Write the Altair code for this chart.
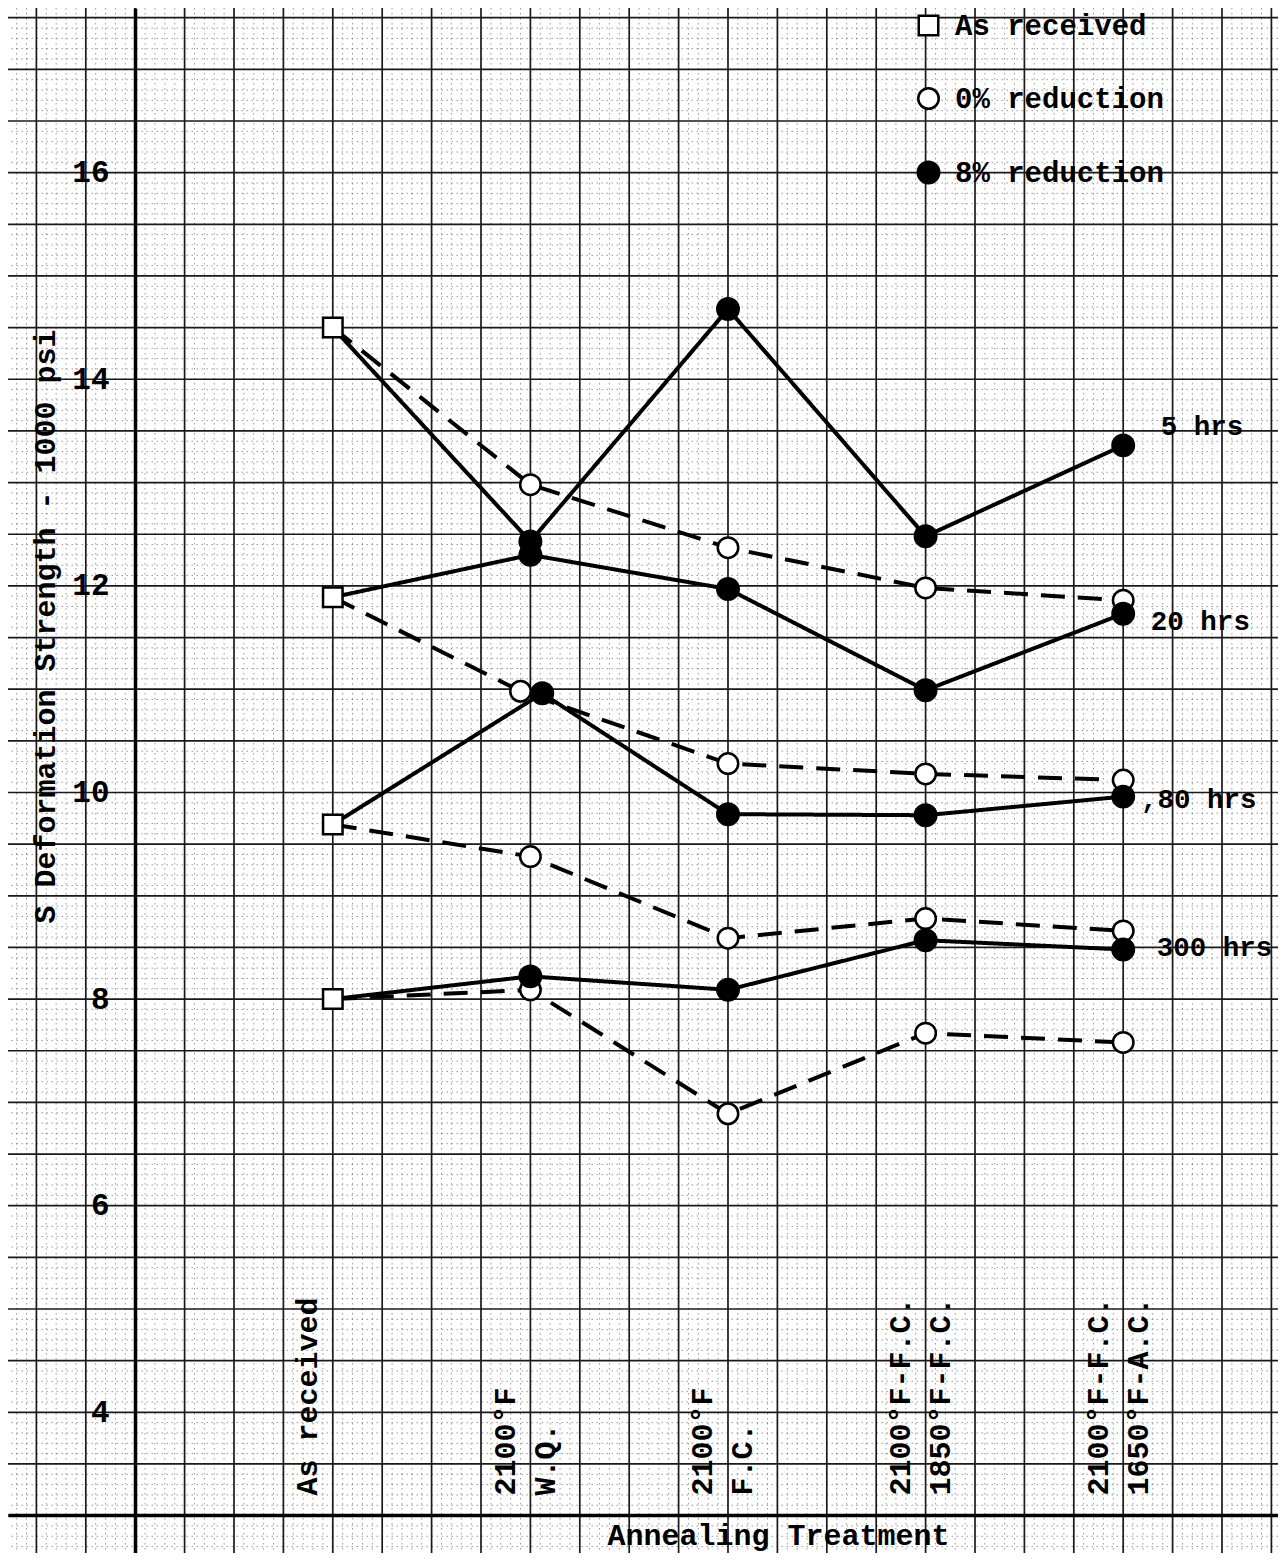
import json
import numpy as np
import pandas as pd
import altair as alt

# ---------------- data ----------------
treat_x = [0, 1, 2, 3, 4]
treat_labels = [
    ["As received"],
    ["2100°F", "W.Q."],
    ["2100°F", "F.C."],
    ["2100°F-F.C.", "1850°F-F.C."],
    ["2100°F-F.C.", "1650°F-A.C."],
]
hours = ["5 hrs", "20 hrs", "80 hrs", "300 hrs"]
as_received = [14.50, 11.89, 9.69, 8.00]

# 0% reduction (open circles, dashed)
red0 = {
    "5 hrs": [12.98, 12.37, 11.98, 11.86],
    "20 hrs": [10.98, 10.28, 10.18, 10.12],
    "80 hrs": [9.38, 8.59, 8.78, 8.66],
    "300 hrs": [8.09, 6.89, 7.67, 7.58],
}
red0_x = {
    "5 hrs": [1, 2, 3, 4],
    "20 hrs": [0.95, 2, 3, 4],
    "80 hrs": [1, 2, 3, 4],
    "300 hrs": [1, 2, 3, 4],
}
# 8% reduction (filled circles, solid)
red8 = {
    "5 hrs": [12.43, 14.68, 12.48, 13.36],
    "20 hrs": [12.30, 11.97, 10.99, 11.73],
    "80 hrs": [10.96, 9.79, 9.78, 9.96],
    "300 hrs": [8.22, 8.09, 8.57, 8.48],
}
red8_x = {
    "5 hrs": [1, 2, 3, 4],
    "20 hrs": [1, 2, 3, 4],
    "80 hrs": [1.06, 2, 3, 4],
    "300 hrs": [1, 2, 3, 4],
}
hour_label_text = ["5 hrs", "20 hrs", ",80 hrs", "300 hrs"]
hour_label_x = [4.19, 4.14, 4.09, 4.17]
hour_label_y = [13.54, 11.65, 9.93, 8.49]

y_ticks = [4, 6, 8, 10, 12, 14, 16]
marker_domain = ["As received", "0% reduction", "8% reduction"]

# ---------------- tables ----------------
line_rows, pt_rows = [], []
for i, h in enumerate(hours):
    pt_rows.append({"x": 0, "y": as_received[i], "marker": "As received"})
    for red, vals, xs_ in (("0% reduction", red0, red0_x), ("8% reduction", red8, red8_x)):
        line_rows.append({"x": 0, "y": as_received[i], "series": h + red, "reduction": red})
        for xv, yv in zip(xs_[h], vals[h]):
            line_rows.append({"x": xv, "y": yv, "series": h + red, "reduction": red})
            pt_rows.append({"x": xv, "y": yv, "marker": red})
df_lines = pd.DataFrame(line_rows)
df_pts = pd.DataFrame(pt_rows)
df_hl = pd.DataFrame({"x": hour_label_x, "y": hour_label_y, "t": hour_label_text})

# graph-paper rulings
gx_major = np.round(np.arange(-1.5, 4.76, 0.25), 3)
gx_all = np.round(np.arange(-1.60, 4.78, 0.05), 3)
gx_minor = [v for v in gx_all if not np.any(np.isclose(v, gx_major))]
gy_major = np.round(np.arange(3.0, 17.51, 0.5), 3)
gy_all = np.round(np.arange(2.7, 17.55, 0.1), 3)
gy_minor = [v for v in gy_all if not np.any(np.isclose(v, gy_major))]

# ---------------- scales / axes ----------------
FONT = "Liberation Mono"
xs = alt.Scale(domain=[-1.6437, 4.7834], nice=False, zero=False)
ys = alt.Scale(domain=[2.638, 17.594], nice=False, zero=False)

label_expr = json.dumps(treat_labels, ensure_ascii=False) + "[datum.value]"

xax = alt.Axis(
    values=treat_x, orient="bottom", offset=-38, labelExpr=label_expr,
    labelAngle=270, labelAlign="left", labelBaseline="middle",
    labelPadding=-20, labelLineHeight=40, labelOffset=-25, labelLimit=0,
    ticks=False, tickSize=0,
    domain=True, domainColor="black", domainWidth=3.5, grid=False,
    labelFlush=False, labelOverlap=False, labelFont=FONT, labelFontSize=30,
    labelFontWeight="bold", labelColor="black",
    title="Annealing Treatment", titleX=770, titleY=20, titleAlign="center",
    titleBaseline="middle", titleFont=FONT, titleFontSize=30, titleLimit=0,
    titleFontWeight="bold", titleColor="black", zindex=1,
)
yax = alt.Axis(
    values=y_ticks, orient="left", offset=-127, ticks=False, tickSize=0,
    domain=True, domainColor="black", domainWidth=3.5, grid=False,
    labelFlush=False, labelOverlap=False, labelPadding=26, labelAlign="right",
    labelBaseline="middle", labelFont=FONT, labelFontSize=31,
    labelFontWeight="bold", labelColor="black",
    title="S Deformation Strength - 1000 psi", titleX=-90, titleY=618,
    titleAngle=270, titleAlign="center", titleBaseline="middle", titleLimit=0,
    titleFont=FONT, titleFontSize=30, titleFontWeight="bold",
    titleColor="black", zindex=1,
)


def X():
    return alt.X("x:Q", scale=xs, axis=xax)


def Y():
    return alt.Y("y:Q", scale=ys, axis=yax)


vminor = alt.Chart(pd.DataFrame({"x": gx_minor})).mark_rule(
    color="#555555", strokeWidth=1, strokeDash=[1.5, 3.5], opacity=0.6
).encode(x=X())
hminor = alt.Chart(pd.DataFrame({"y": gy_minor})).mark_rule(
    color="#555555", strokeWidth=1, strokeDash=[1.5, 3.5], opacity=0.6
).encode(y=Y())
vmajor = alt.Chart(pd.DataFrame({"x": gx_major})).mark_rule(
    color="#1a1a1a", strokeWidth=1.7
).encode(x=X())
hmajor = alt.Chart(pd.DataFrame({"y": gy_major})).mark_rule(
    color="#1a1a1a", strokeWidth=1.7
).encode(y=Y())

lines = alt.Chart(df_lines).mark_line(color="black", strokeWidth=4).encode(
    x=X(), y=Y(), detail="series:N", order="x:Q",
    strokeDash=alt.StrokeDash(
        "reduction:N",
        scale=alt.Scale(domain=["0% reduction", "8% reduction"], range=[[24, 13], [1, 0]]),
        legend=None,
    ),
)

leg = alt.Legend(
    title=None, orient="none", legendX=906, legendY=3, padding=0, offset=0,
    labelFont=FONT, labelFontSize=29, labelFontWeight="bold", labelColor="black",
    rowPadding=42, labelOffset=12, labelLimit=0, symbolStrokeColor="black",
    symbolStrokeWidth=2.5, labelBaseline="middle",
)
pts = alt.Chart(df_pts).mark_point(
    filled=True, stroke="black", strokeWidth=2.5, opacity=1
).encode(
    x=X(), y=Y(),
    shape=alt.Shape("marker:N", scale=alt.Scale(domain=marker_domain, range=["square", "circle", "circle"]), legend=leg),
    fill=alt.Fill("marker:N", scale=alt.Scale(domain=marker_domain, range=["white", "white", "black"]), legend=leg),
    stroke=alt.Stroke("marker:N", scale=alt.Scale(domain=marker_domain, range=["black", "black", "black"]), legend=leg),
    size=alt.Size("marker:N", scale=alt.Scale(domain=marker_domain, range=[380, 460, 620]), legend=leg),
)

hlabels = alt.Chart(df_hl).mark_text(
    align="left", baseline="middle", font=FONT, fontSize=27.5,
    fontWeight="bold", color="black"
).encode(x=X(), y=Y(), text="t:N")

chart = alt.layer(vminor, hminor, vmajor, hmajor, lines, pts, hlabels).properties(
    width=1270, height=1545, padding=0, background="white",
    autosize=alt.AutoSizeParams(type="none"),
).configure_view(strokeWidth=0)

chart.save("out.html", embed_options={"renderer": "svg", "actions": False})
